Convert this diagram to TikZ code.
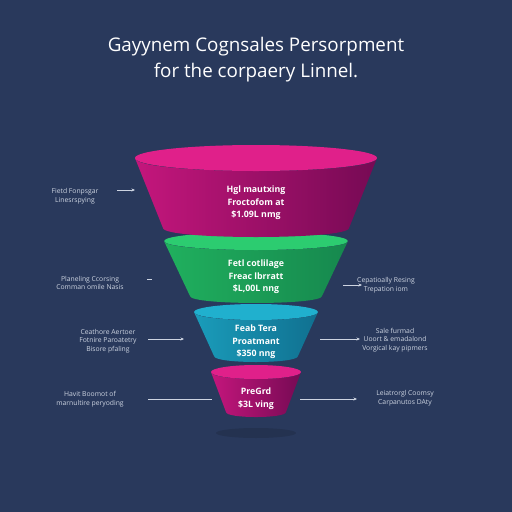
\documentclass[tikz,border=0pt]{standalone}
\usepackage{fontspec}
\setmainfont{Open Sans}
\usetikzlibrary{arrows.meta}
\definecolor{bg}{RGB}{41,57,92}
\definecolor{magtop}{RGB}{224,32,138}
\definecolor{magL}{RGB}{196,22,124}
\definecolor{magR}{RGB}{118,10,84}
\definecolor{grntop}{RGB}{44,204,112}
\definecolor{grnL}{RGB}{32,176,94}
\definecolor{grnR}{RGB}{22,136,78}
\definecolor{teatop}{RGB}{32,176,206}
\definecolor{teaL}{RGB}{26,156,186}
\definecolor{teaR}{RGB}{16,112,144}
\definecolor{lbl}{RGB}{205,212,225}
\tikzset{
  lab/.style={text=lbl, font=\fontsize{6.8}{8.5}\selectfont, align=center, inner sep=0pt},
  tiertext/.style={text=white, font=\bfseries\fontsize{8.8}{12.5}\selectfont, align=center, inner sep=0pt},
  conn/.style={draw=lbl, line width=0.6pt},
  arr/.style={conn, -{Stealth[length=3.5pt,width=3pt]}},
}
\begin{document}
\begin{tikzpicture}[x=1pt,y=-1pt]
\fill[bg] (0,0) rectangle (512,512);
\useasboundingbox (0,0) rectangle (512,512);
% title
\node[text=white, font=\fontsize{18.8}{26}\selectfont, align=center, inner sep=0pt] (title) at (256,60)
  {Gayynem Cognsales Persorpment\\for the corpaery Linnel.};
% shadow
\fill[black, opacity=0.12] (256,433) ellipse [x radius=40, y radius=5];
% tier 4
\shade[left color=magL, right color=magR] (211,372) -- (226,412) .. controls (226,418.7) and (286,418.7) .. (286,412) -- (301,372) .. controls (301,381.3) and (211,381.3) .. cycle;
\fill[magtop] (256,372) ellipse [x radius=45, y radius=7];
% tier 3
\shade[left color=teaL, right color=teaR] (194,312) -- (214,356) .. controls (214,364) and (298,364) .. (298,356) -- (318,312) .. controls (318,322.7) and (194,322.7) .. cycle;
\fill[teatop] (256,312) ellipse [x radius=62, y radius=8];
% tier 2
\shade[left color=grnL, right color=grnR] (164,241) -- (190,296) .. controls (190,305.3) and (322,305.3) .. (322,296) -- (348,241) .. controls (348,253) and (164,253) .. cycle;
\fill[grntop] (256,241) ellipse [x radius=92, y radius=9];
% tier 1
\shade[left color=magL, right color=magR] (135,158) -- (163,228) .. controls (163,240) and (349,240) .. (349,228) -- (377,158) .. controls (377,175.3) and (135,175.3) .. cycle;
\fill[magtop] (256,158) ellipse [x radius=121, y radius=13];
% tier texts
\node[tiertext] (t1) at (256,203) {Hgl mautxing\\Froctofom at\\\$1.09L nmg};
\node[tiertext] (t2) at (256,277) {Fetl cotlilage\\Freac lbrratt\\\$L,00L nng};
\node[tiertext] (t3) at (256,342) {Feab Tera\\Proatmant\\\$350 nng};
\node[tiertext] (t4) at (256,398.5) {PreGrd\\\$3L ving};
% side labels
\node[lab] (l1) at (75,196) {Fietd Fonpsgar\\Linesrspying};
\node[lab] (l2) at (90,283) {Planeling Ccorsing\\Comman omile Nasis};
\node[lab] (l3) at (108,341) {Ceathore Aertoer\\Fotnire Paroatetry\\Bisore pfaling};
\node[lab] (l4) at (90,399) {Havit Boomot of\\marnultire peryoding};
\node[lab] (r2) at (386,285) {Cepatioally Resing\\Trepation iom};
\node[lab] (r3) at (395,340) {Sale furmad\\Uoort \& emadalond\\Vorgical kay pipmers};
\node[lab] (r4) at (405,398) {Leiatrorgl Coomsy\\Carpanutos DAty};
% connectors
\coordinate (a1s) at (117,190); \coordinate (a1e) at (135,190);
\draw[arr] (a1s) -- (a1e);
\coordinate (a2s) at (147,279); \coordinate (a2e) at (152,279);
\draw[conn] (a2s) -- (a2e);
\coordinate (b2s) at (343,285); \coordinate (b2e) at (362,285);
\draw[arr] (b2s) -- (b2e);
\coordinate (a3s) at (148,339); \coordinate (a3e) at (184,339);
\draw[arr] (a3s) -- (a3e);
\coordinate (b3s) at (320,339); \coordinate (b3e) at (360,339);
\draw[arr] (b3s) -- (b3e);
\coordinate (a4s) at (148,399); \coordinate (a4e) at (212,399);
\draw[conn] (a4s) -- (a4e);
\coordinate (b4s) at (300,399); \coordinate (b4e) at (357,399);
\draw[arr] (b4s) -- (b4e);
\end{tikzpicture}
\end{document}
